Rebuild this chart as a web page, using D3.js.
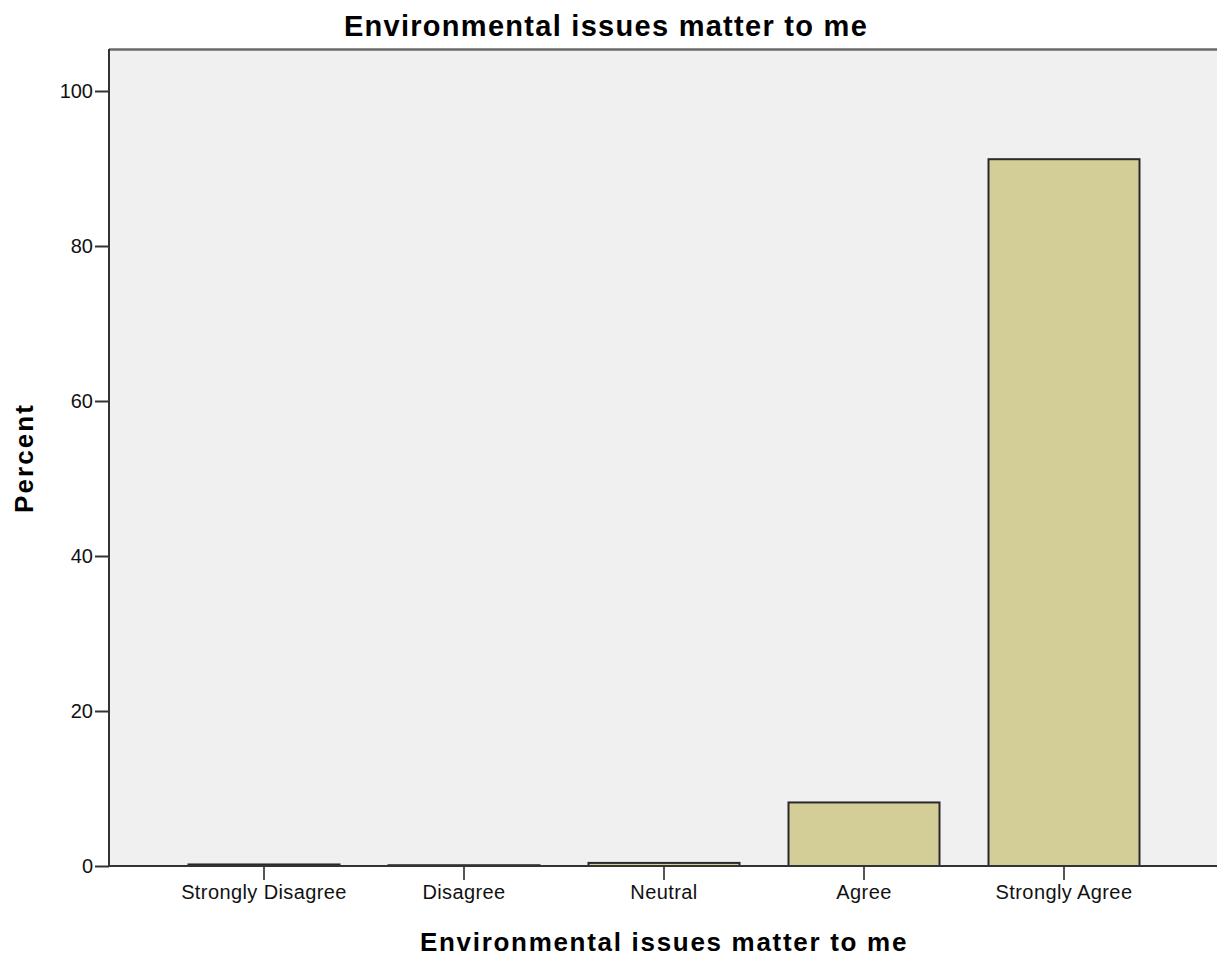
<!DOCTYPE html>
<html><head><meta charset="utf-8">
<script src="https://cdn.jsdelivr.net/npm/d3@7"></script>
<style>body{margin:0;background:#fff}svg{display:block}text{font-family:"Liberation Sans",Arial,sans-serif}</style>
</head><body>
<svg id="c" width="1217" height="961"></svg>
<script>
const categories = ["Strongly Disagree","Disagree","Neutral","Agree","Strongly Agree"];
const percents = [0.2, 0.1, 0.4, 8.2, 91.2];
const yTicks = [0,20,40,60,80,100];
const title = "Environmental issues matter to me";
const xTitle = "Environmental issues matter to me";
const yTitle = "Percent";

const svg = d3.select("#c");
const L = 109, T = 49, R = 1217, B = 866;
const x = d3.scaleBand().domain(categories).range([164, 1164]).paddingInner(0.245).paddingOuter(0.1225);
const y = d3.scaleLinear().domain([0, 100]).range([B, 91]);

function fit(sel, target) {
  const n = sel.text().length;
  const w = sel.node().getComputedTextLength();
  sel.attr("letter-spacing", ((target - w) / n).toFixed(2));
}

svg.append("rect").attr("x", L).attr("y", T).attr("width", R - L + 5).attr("height", B - T).attr("fill", "#f0f0f0");
svg.append("line").attr("x1", L).attr("x2", R).attr("y1", T + 0.5).attr("y2", T + 0.5).attr("stroke", "#6a6a6a").attr("stroke-width", 2.5);

svg.append("g").selectAll("rect").data(categories).join("rect")
  .attr("x", d => x(d)).attr("width", x.bandwidth())
  .attr("y", (d, i) => y(percents[i])).attr("height", (d, i) => B - y(percents[i]))
  .attr("fill", "#d3ce97").attr("stroke", "#2a2a2a").attr("stroke-width", 2);

const ya = svg.append("g").attr("transform", `translate(${L},0)`)
  .call(d3.axisLeft(y).tickValues(yTicks).tickSize(14).tickSizeOuter(0).tickPadding(2));
ya.select(".domain").remove();
svg.append("line").attr("x1", L).attr("x2", L).attr("y1", T).attr("y2", B).attr("stroke", "#333").attr("stroke-width", 2);
ya.selectAll("line").attr("stroke", "#333").attr("stroke-width", 2);
ya.selectAll("text").attr("font-size", 20).attr("fill", "#111").attr("font-family", "Liberation Sans, Arial, sans-serif");

const xa = svg.append("g").attr("transform", `translate(0,${B})`)
  .call(d3.axisBottom(x).tickSize(14).tickSizeOuter(0).tickPadding(5));
xa.select(".domain").remove();
svg.append("line").attr("x1", L).attr("x2", R).attr("y1", B).attr("y2", B).attr("stroke", "#333").attr("stroke-width", 2);
xa.selectAll("line").attr("stroke", "#555").attr("stroke-width", 2);
xa.selectAll("text").attr("font-size", 20).attr("fill", "#111").attr("font-family", "Liberation Sans, Arial, sans-serif")
  .attr("letter-spacing", 0.4);

const t1 = svg.append("text").attr("x", 606).attr("y", 36).attr("text-anchor", "middle")
  .attr("font-size", 29).attr("font-weight", "bold").attr("fill", "#000").text(title);
fit(t1, 524);
const t2 = svg.append("text").attr("x", 664).attr("y", 951).attr("text-anchor", "middle")
  .attr("font-family", "DejaVu Sans, sans-serif")
  .attr("font-size", 26).attr("font-weight", "bold").attr("fill", "#000").text(xTitle);
fit(t2, 488);
const t3 = svg.append("text").attr("transform", "translate(33,458) rotate(-90)").attr("text-anchor", "middle")
  .attr("font-family", "DejaVu Sans, sans-serif")
  .attr("font-size", 26).attr("font-weight", "bold").attr("fill", "#000").text(yTitle);
fit(t3, 110);
</script>
</body></html>
